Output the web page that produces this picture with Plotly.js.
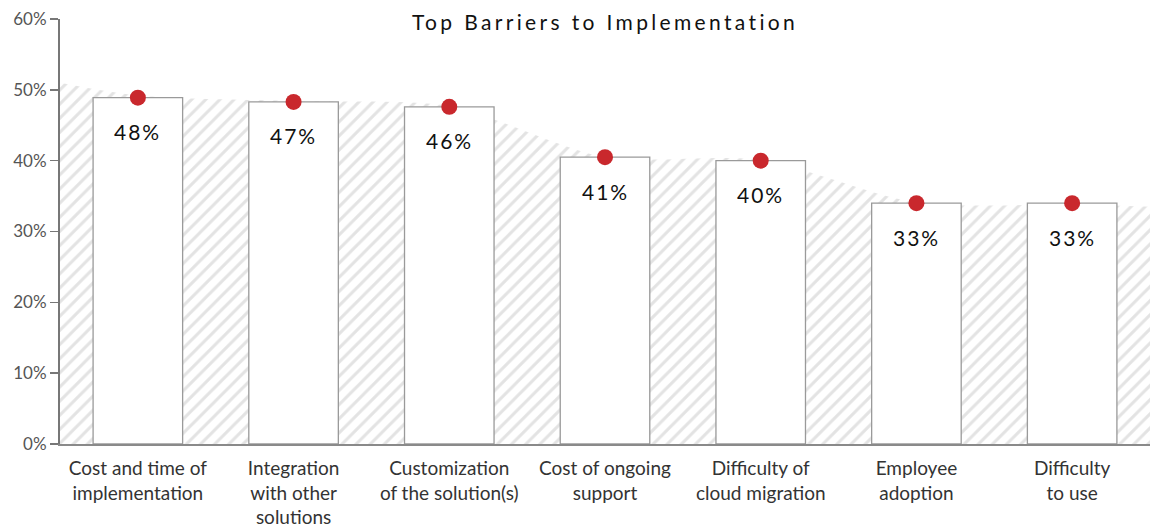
<!DOCTYPE html>
<html>
<head>
<meta charset="utf-8">
<script src="https://cdn.plot.ly/plotly-3.0.1.min.js"></script>
<style>
  html, body { margin: 0; padding: 0; background: #fff; }
  #chart { width: 1150px; height: 531px; }
  .gtitle { letter-spacing: 3.35px; }
  .annotation-text { letter-spacing: 2px; }
</style>
</head>
<body>
<div id="chart"></div>
<script>
// Categories (x-axis labels)
const categories = [
  "Cost and time of<br>implementation",
  "Integration<br>with other<br>solutions",
  "Customization<br>of the solution(s)",
  "Cost of ongoing<br>support",
  "Difficulty of<br>cloud migration",
  "Employee<br>adoption",
  "Difficulty<br>to use"
];
// Bar heights as drawn (percent)
const barValues = [48.9, 48.3, 47.6, 40.5, 40.0, 34.0, 34.0];
// Printed labels
const barLabels = ["48%", "47%", "46%", "41%", "40%", "33%", "33%"];
// Background hatched trend area (positions in category units, values in percent)
const trendX = [-0.5, 0, 1, 2, 3, 4, 5, 6, 6.5];
const trendY = [51.0, 49.2, 48.4, 47.7, 40.5, 40.1, 34.1, 33.8, 33.5];
// Y ticks
const yTickVals = [0, 10, 20, 30, 40, 50, 60];
const yTickText = ["0%", "10%", "20%", "30%", "40%", "50%", "60%"];

const idx = categories.map((_, i) => i);

const traces = [
  {
    type: "scatter",
    x: trendX,
    y: trendY,
    xaxis: "x", yaxis: "y",
    mode: "lines",
    line: { width: 0, shape: "spline", smoothing: 0.8, color: "rgba(0,0,0,0)" },
    fill: "tozeroy",
    fillcolor: "rgba(0,0,0,0)",
    fillpattern: { shape: "/", fgcolor: "#e3e3e3", bgcolor: "#ffffff", size: 10, solidity: 0.3 },
    hoverinfo: "skip",
    showlegend: false
  },
  {
    type: "bar",
    x: idx,
    y: barValues,
    xaxis: "x2", yaxis: "y2",
    width: 0.575,
    marker: { color: "#ffffff", line: { color: "#9a9a9a", width: 1.3 } },
    hoverinfo: "skip",
    showlegend: false
  },
  {
    type: "scatter",
    x: idx,
    y: barValues,
    xaxis: "x2", yaxis: "y2",
    mode: "markers",
    marker: { color: "#c9282d", size: 16 },
    hoverinfo: "skip",
    showlegend: false
  }
];

const annotations = idx.map(i => ({
  x: i, y: barValues[i], xref: "x2", yref: "y2",
  text: barLabels[i], showarrow: false,
  yshift: -34,
  font: { family: "Lato, sans-serif", size: 21, color: "#111" }
}));

const layout = {
  width: 1150, height: 531,
  margin: { l: 60, r: 0, t: 19, b: 87 },
  paper_bgcolor: "#fff", plot_bgcolor: "#fff",
  title: {
    text: "Top Barriers to Implementation",
    x: 0.5, xref: "paper", y: 1 - 23/531, yref: "container", yanchor: "middle",
    font: { family: "Lato, sans-serif", size: 21, color: "#111" }
  },
  xaxis: {
    range: [-0.5, 6.5],
    tickvals: idx, ticktext: categories,
    showgrid: false, zeroline: false,
    showline: true, linecolor: "#8a8a8a", linewidth: 2,
    ticks: "", ticklen: 0,
    ticklabelstandoff: 6,
    tickfont: { family: "Lato, sans-serif", size: 19, color: "#333" },
    fixedrange: true
  },
  yaxis: {
    range: [0, 60],
    tickvals: yTickVals, ticktext: yTickText,
    showgrid: false, zeroline: false,
    showline: true, linecolor: "#777", linewidth: 2,
    ticks: "outside", ticklen: 8, tickwidth: 1.5, tickcolor: "#777",
    tickfont: { family: "Lato, sans-serif", size: 17, color: "#555" },
    fixedrange: true
  },
  xaxis2: {
    overlaying: "x", anchor: "y2", range: [-0.5, 6.5],
    visible: false, showgrid: false, zeroline: false, fixedrange: true
  },
  yaxis2: {
    overlaying: "y", anchor: "x2", range: [0, 60],
    visible: false, showgrid: false, zeroline: false, fixedrange: true
  },
  annotations: annotations
};

Plotly.newPlot("chart", traces, layout, { displayModeBar: false, staticPlot: true });
</script>
</body>
</html>
